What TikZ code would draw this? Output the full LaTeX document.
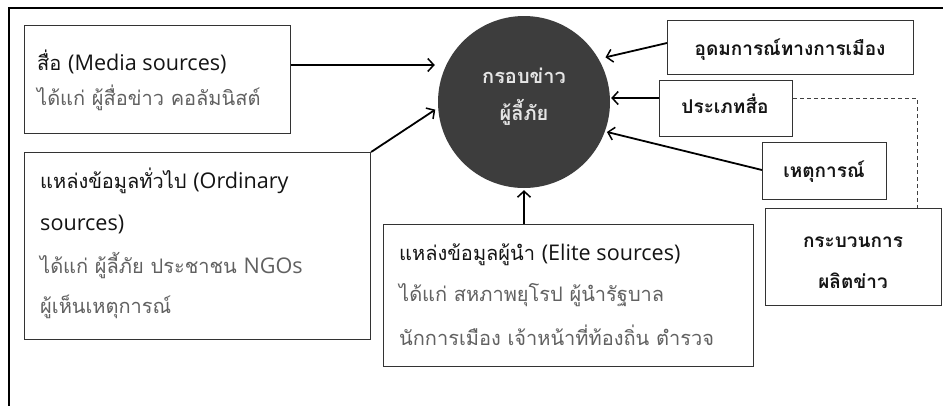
\documentclass[tikz,border=0pt]{standalone}
\usepackage{fontspec}
\setmainfont[Script=Thai]{Loma}
\newfontfamily\lat{Open Sans}[Scale=1.08]
\usetikzlibrary{arrows.meta,calc}
\begin{document}
\begin{tikzpicture}[x=1pt,y=-1pt,
  box/.style={draw=black!80, line width=1.1pt, rectangle, inner sep=0pt, anchor=north west},
  arr/.style={-{Straight Barb[length=6pt,width=13pt,line width=1.5pt]}, line width=1.8pt},
  txt/.style={inner sep=0pt, font=\fontsize{20}{24}\selectfont},
  ttl/.style={txt, anchor=base west, text=black!92},
  sub/.style={txt, anchor=base west, text=black!62},
  ctr/.style={txt, anchor=base, text=black!92, font=\fontsize{19}{23}\selectfont\bfseries},
  ctrc/.style={txt, anchor=base, text=white!90!black, font=\fontsize{20}{24}\selectfont\bfseries},
]
\useasboundingbox (0,0) rectangle (943,405);
\fill[white] (0,0) rectangle (943,405);
\draw[line width=2pt] (8.5,412) -- (8.5,7.5) -- (950,7.5);

% boxes
\node[box, minimum width=266pt, minimum height=108pt] (media) at (24,25) {};
\node[box, minimum width=346pt, minimum height=187pt] (ord) at (24,152) {};
\node[box, minimum width=370pt, minimum height=142pt] (elite) at (383,224) {};
\node[box, minimum width=246pt, minimum height=54pt] (ideo) at (667,20) {};
\node[box, minimum width=133pt, minimum height=56pt] (ptype) at (659,80) {};
\node[box, minimum width=124pt, minimum height=57pt] (event) at (762,142) {};
\node[box, minimum width=176pt, minimum height=97pt] (proc) at (765,208) {};

% central circle
\node[circle, fill=black!76, minimum size=172pt, inner sep=0pt] (circ) at (524,102) {};
\node[ctrc] (circT1) at (524,83) {กรอบข่าว};
\node[ctrc] (circT2) at (524,120) {ผู้ลี้ภัย};

% texts
\node[ttl] (mediaT) at (37,70) {สื่อ {\lat (Media sources)}};
\node[sub] (mediaS) at (37,105) {ได้แก่ ผู้สื่อข่าว คอลัมนิสต์};

\node[ttl] (ordT1) at (40,188) {แหล่งข้อมูลทั่วไป {\lat (Ordinary}};
\node[ttl] (ordT2) at (40,230) {\lat sources)};
\node[sub] (ordS1) at (40,273) {ได้แก่ ผู้ลี้ภัย ประชาชน {\lat NGOs}};
\node[sub] (ordS2) at (40,313) {ผู้เห็นเหตุการณ์};

\node[ttl] (eliteT) at (399,260) {แหล่งข้อมูลผู้นำ {\lat (Elite sources)}};
\node[sub] (eliteS1) at (399,301) {ได้แก่ สหภาพยุโรป ผู้นำรัฐบาล};
\node[sub] (eliteS2) at (399,345) {นักการเมือง เจ้าหน้าที่ท้องถิ่น ตำรวจ};

\node[ctr] (ideoT) at (790,55) {อุดมการณ์ทางการเมือง};
\node[ctr] (ptypeT) at (725,113) {ประเภทสื่อ};
\node[ctr] (eventT) at (824,177) {เหตุการณ์};
\node[ctr] (procT1) at (853,247) {กระบวนการ};
\node[ctr] (procT2) at (853,288) {ผลิตข่าว};

% connectors
\draw[arr, shorten >=3pt] (media.east |- 0,65) -- (circ.west |- 0,65);
\draw[arr, shorten >=3pt] (ord.north east) -- (circ.west |- 0,108);
\draw[arr, shorten >=2pt] (circ.south |- elite.north) -- (circ.south);
\draw[arr, shorten >=7pt] (ideo.west |- 0,43) -- (circ.30);
\draw[arr, shorten >=1pt] (ptype.west |- 0,98) -- (circ.east |- 0,98);
\draw[arr, shorten >=2pt] (event.west |- 0,170) -- (circ.-20);
\draw[black!75, line width=1pt, dash pattern=on 4pt off 3pt] (ptype.east |- 0,98) -| ($(proc.north west)+(152,0)$);
\end{tikzpicture}
\end{document}
